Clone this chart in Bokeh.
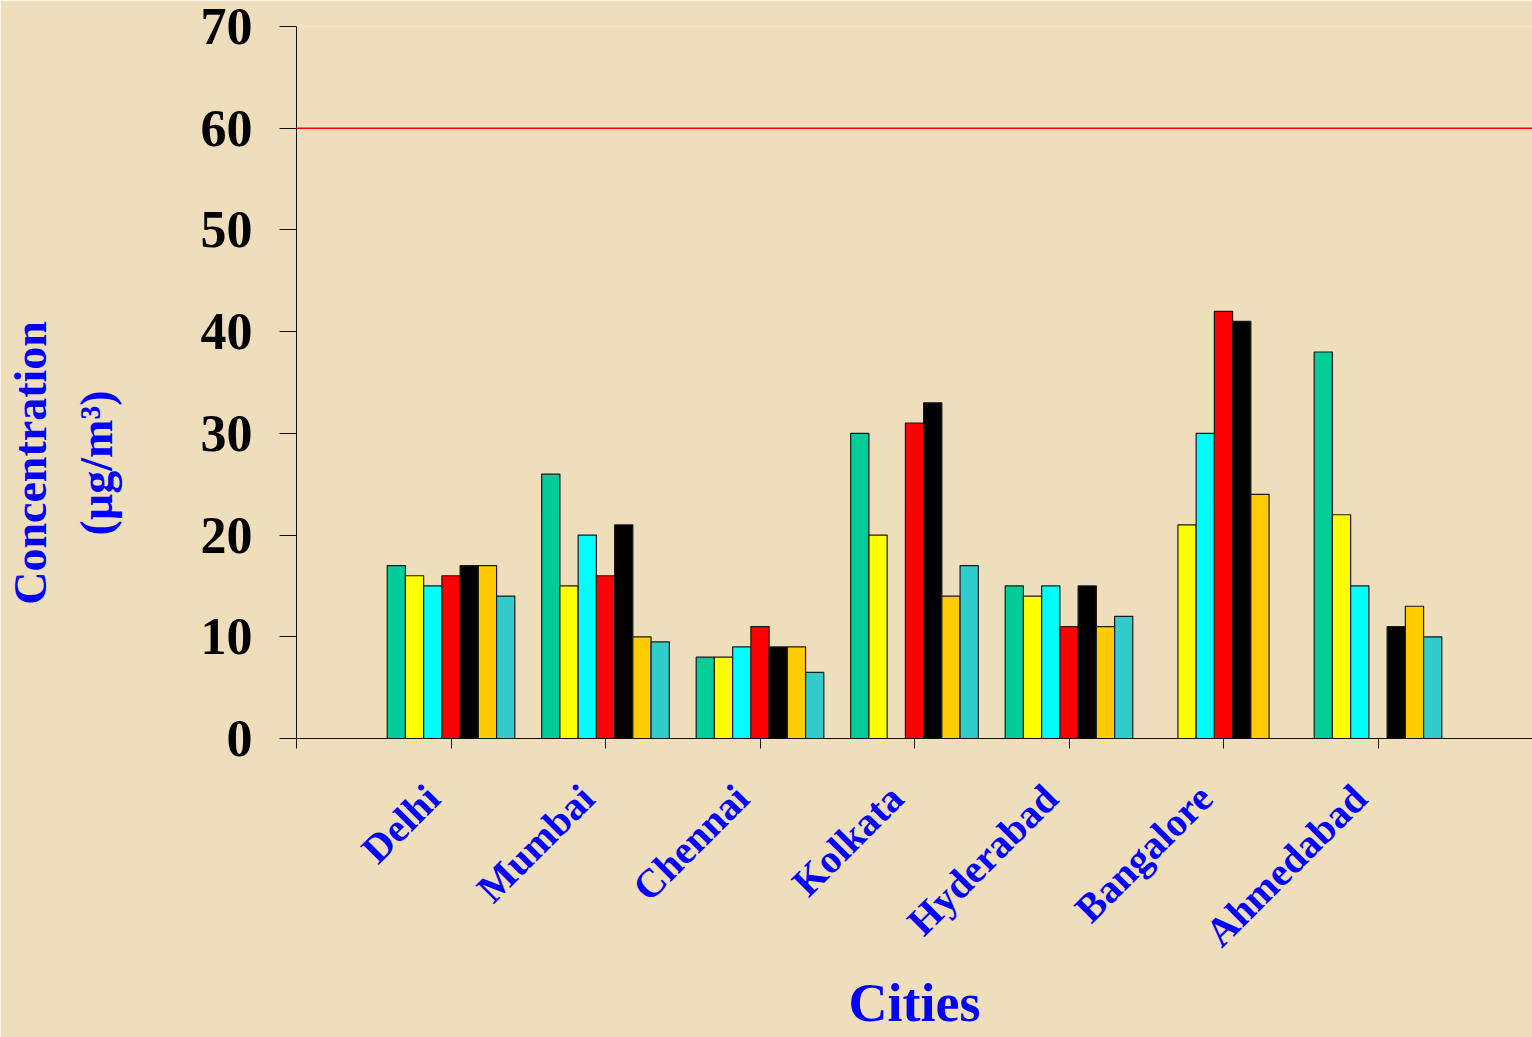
from math import pi

import numpy as np
from bokeh.embed import file_html
from bokeh.models import ColumnDataSource, FixedTicker, Range1d, Span
from bokeh.plotting import figure
from bokeh.resources import INLINE

# --- data -------------------------------------------------------------
cities = ["Delhi", "Mumbai", "Chennai", "Kolkata", "Hyderabad", "Bangalore", "Ahmedabad"]

# seven series per city (NaN = no bar)
s1 = [17, 26, 8, 30, 15, np.nan, 38]
s2 = [16, 15, 8, 20, 14, 21, 22]
s3 = [15, 20, 9, np.nan, 15, 30, 15]
s4 = [16, 16, 11, 31, 11, 42, np.nan]
s5 = [17, 21, 9, 33, 15, 41, 11]
s6 = [17, 10, 9, 14, 11, 24, 13]
s7 = [14, 9.5, 6.5, 17, 12, np.nan, 10]

series = [s1, s2, s3, s4, s5, s6, s7]
colors = ["#00CC99", "#FFFF00", "#00FFFF", "#FF0000", "#000000", "#FFCC00", "#33CCCC"]

y_ticks = [0, 10, 20, 30, 40, 50, 60, 70]
limit_value = 60

# --- figure -----------------------------------------------------------
BG = "#EFDEBC"
SERIF = "Liberation Serif"
BLUE = "#0000FF"

p = figure(
    width=1532, height=1037,
    x_range=Range1d(0, len(cities) + 1), y_range=Range1d(0, 70),
    output_backend="svg", toolbar_location=None,
    min_border_left=296, min_border_right=0,
    min_border_top=26, min_border_bottom=299,
)
p.background_fill_color = BG
p.border_fill_color = BG
p.outline_line_color = None
p.grid.visible = False

bar_w = 0.118
n = len(series)
for j, (vals, col) in enumerate(zip(series, colors)):
    xs, tops = [], []
    for i, v in enumerate(vals):
        if not np.isnan(v):
            xs.append(i + 1 + (j - (n - 1) / 2) * bar_w)
            tops.append(v)
    src = ColumnDataSource(dict(x=xs, top=tops))
    p.vbar(x="x", top="top", bottom=0, width=bar_w, source=src,
           fill_color=col, line_color="#1a1a1a", line_width=1.2)

# limit line
p.add_layout(Span(location=limit_value, dimension="width",
                  line_color="#FF0000", line_width=1.5))

# --- x axis: tick marks between groups, names set slightly left --------
label_shift = 0.117
name_pos = [i + 1 - label_shift for i in range(len(cities))]
xa = p.xaxis[0]
xa.ticker = FixedTicker(ticks=name_pos, minor_ticks=list(range(0, len(cities) + 2)))
xa.major_label_overrides = {pos: c for pos, c in zip(name_pos, cities)}
xa.major_label_orientation = pi / 4
xa.major_label_text_font = SERIF
xa.major_label_text_font_style = "bold"
xa.major_label_text_font_size = "40px"
xa.major_label_text_color = BLUE
xa.major_label_standoff = 43
xa.major_tick_out = 10
xa.major_tick_in = 0
xa.major_tick_line_color = None
xa.minor_tick_out = 10
xa.minor_tick_in = 0
xa.minor_tick_line_color = "#111111"
xa.axis_line_color = "#111111"
xa.axis_label = "Cities"
xa.axis_label_text_font = SERIF
xa.axis_label_text_font_style = "bold"
xa.axis_label_text_font_size = "54px"
xa.axis_label_text_color = BLUE
xa.axis_label_text_line_height = 0.6
xa.axis_label_standoff = -1

# --- y axis -----------------------------------------------------------
pad = "\u00a0" * 14
ya = p.yaxis[0]
ya.ticker = FixedTicker(ticks=y_ticks)
ya.major_label_text_font = SERIF
ya.major_label_text_font_style = "bold"
ya.major_label_text_font_size = "52px"
ya.major_label_text_color = "#000000"
ya.major_label_standoff = 27
ya.major_tick_out = 17
ya.major_tick_in = 0
ya.minor_tick_line_color = None
ya.axis_line_color = "#111111"
ya.major_tick_line_color = "#111111"
ya.axis_label = "Concentration" + pad + "\n(µg/m³)" + pad
ya.axis_label_text_font = SERIF
ya.axis_label_text_font_style = "bold"
ya.axis_label_text_font_size = "46px"
ya.axis_label_text_color = BLUE
ya.axis_label_text_line_height = 1.28
ya.axis_label_standoff = 76

open("out.html", "w").write(file_html(p, INLINE))
